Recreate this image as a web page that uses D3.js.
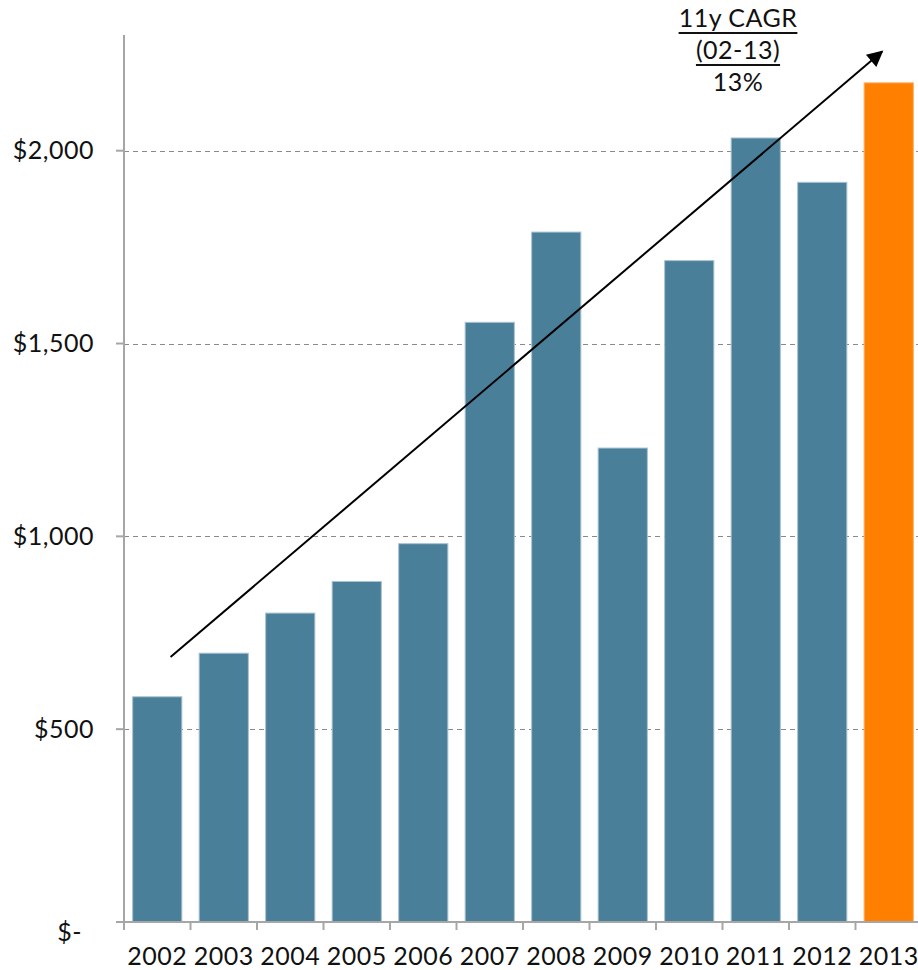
<!DOCTYPE html>
<html>
<head>
<meta charset="utf-8">
<script src="https://cdn.jsdelivr.net/npm/d3@7"></script>
<style>
  body { margin: 0; background: #fff; }
  text { font-family: Lato, "Open Sans", sans-serif; fill: #111; letter-spacing: 0.5px; }
</style>
</head>
<body>
<svg id="chart" width="918" height="970"></svg>
<script>
// data
const years = ["2002", "2003", "2004", "2005", "2006", "2007", "2008", "2009", "2010", "2011", "2012", "2013"];
const values = [584, 697, 801, 883, 981, 1555, 1789, 1229, 1715, 2033, 1918, 2176];
const yTicks = [0, 500, 1000, 1500, 2000];
const highlightYear = "2013";
const cagrLines = ["11y CAGR", "(02-13)", "13%"];
// trend arrow, in data units (band fraction + value)
const arrowFrom = { year: "2002", pos: 0.7, value: 687 };
const arrowTo = { year: "2013", pos: 0.4, value: 2257 };

var svg = d3.select("#chart");
let x0 = 124, x1 = 922, y0 = 922, y1 = 35;

let x = d3.scaleBand().domain(years).range([x0, x1]).paddingInner(0.26).paddingOuter(0.13);
let y = d3.scaleLinear().domain([0, 2300]).range([y0, y1]);
let step = x.step();
let bandStart = d => x0 + years.indexOf(d) * step;

//gridlines
svg.append("g")
  .selectAll("line")
  .data(yTicks.filter(d => d > 0))
  .join("line")
  .attr("x1", x0)
  .attr("x2", 918)
  .attr("y1", d => Math.round(y(d)) + 0.5)
  .attr("y2", d => Math.round(y(d)) + 0.5)
  .attr("stroke", "#8a8a8a")
  .attr("stroke-dasharray", "5,4");

//bars
svg.append("g")
  .selectAll("rect")
  .data(years)
  .join("rect")
  .attr("x", d => x(d))
  .attr("width", x.bandwidth())
  .attr("y", (d, i) => y(values[i]))
  .attr("height", (d, i) => y(0) - y(values[i]))
  .attr("fill", d => d == highlightYear ? "#ff7f00" : "#4a7f9a")
  .attr("stroke", d => d == highlightYear ? "#ffb066" : "#a9c3d1")
  .attr("stroke-width", 1);

//y axis
let yAxis = svg.append("g").attr("stroke", "#a6a6a6").attr("stroke-width", 2);
yAxis.append("line").attr("x1", x0).attr("x2", x0).attr("y1", y1).attr("y2", y0 + 8);
yAxis.selectAll(".tk")
  .data(yTicks)
  .join("line")
  .attr("x1", x0 - 8)
  .attr("x2", x0)
  .attr("y1", d => y(d))
  .attr("y2", d => y(d));

svg.append("g")
  .selectAll("text")
  .data(yTicks)
  .join("text")
  .attr("x", d => d == 0 ? 82 : 94)
  .attr("y", d => y(d))
  .attr("dy", d => d == 0 ? "0.75em" : "0.35em")
  .attr("text-anchor", "end")
  .style("font-size", "25px")
  .text(d => d == 0 ? "$-" : "$" + d3.format(",")(d));

//x axis
let xAxis = svg.append("g").attr("stroke", "#a6a6a6").attr("stroke-width", 2);
xAxis.append("line").attr("x1", x0 - 8).attr("x2", 918).attr("y1", y0).attr("y2", y0);
xAxis.selectAll(".tk")
  .data(years)
  .join("line")
  .attr("x1", d => bandStart(d))
  .attr("x2", d => bandStart(d))
  .attr("y1", y0)
  .attr("y2", y0 + 8);

svg.append("g")
  .selectAll("text")
  .data(years)
  .join("text")
  .attr("x", d => x(d) + x.bandwidth() / 2)
  .attr("y", 965)
  .attr("text-anchor", "middle")
  .style("font-size", "25px")
  .text(d => d);

//trend arrow
svg.append("defs")
  .append("marker")
  .attr("id", "head")
  .attr("viewBox", "0 0 10 10")
  .attr("refX", 9)
  .attr("refY", 5)
  .attr("markerWidth", 22)
  .attr("markerHeight", 16)
  .attr("markerUnits", "userSpaceOnUse")
  .attr("orient", "auto")
  .append("path")
  .attr("d", "M0,0L10,5L0,10Z")
  .attr("fill", "#000");

svg.append("line")
  .attr("x1", bandStart(arrowFrom.year) + arrowFrom.pos * step)
  .attr("y1", y(arrowFrom.value))
  .attr("x2", bandStart(arrowTo.year) + arrowTo.pos * step)
  .attr("y2", y(arrowTo.value))
  .attr("stroke", "#000")
  .attr("stroke-width", 2)
  .attr("marker-end", "url(#head)");

//CAGR label
let cagr = svg.append("g").attr("transform", "translate(738,0)");
cagrLines.forEach((t, i) => {
  let txt = cagr.append("text")
    .attr("y", 27 + i * 32)
    .attr("text-anchor", "middle")
    .style("font-size", "25px")
    .text(t);
  if (i < 2) {
    let w = txt.node().getComputedTextLength();
    cagr.append("line")
      .attr("x1", -w / 2)
      .attr("x2", w / 2)
      .attr("y1", 33 + i * 32)
      .attr("y2", 33 + i * 32)
      .attr("stroke", "#111")
      .attr("stroke-width", 2);
  }
});
</script>
</body>
</html>
